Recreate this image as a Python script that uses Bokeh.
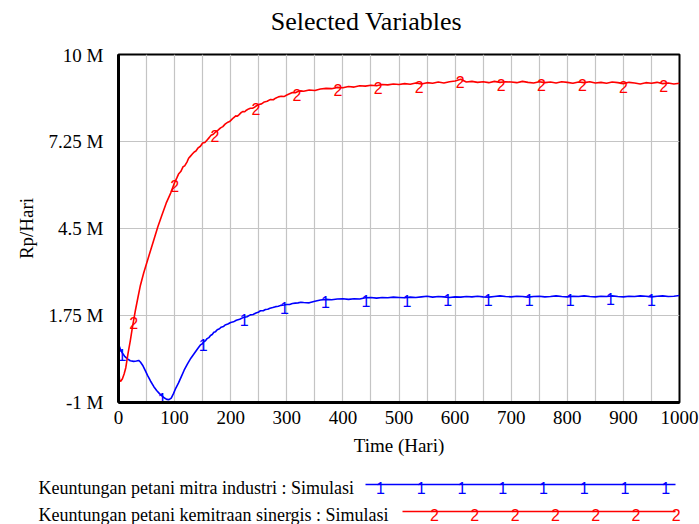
import numpy as np
from bokeh.plotting import figure
from bokeh.models import Range1d, FixedTicker
from bokeh.layouts import column, row
from bokeh.embed import file_html
from bokeh.resources import INLINE
from bokeh.core.properties import value

chart_title = "Selected Variables"
x_label = "Time (Hari)"
y_label = "Rp/Hari"
x_ticks = [0, 100, 200, 300, 400, 500, 600, 700, 800, 900, 1000]
y_ticks = [-1, 1.75, 4.5, 7.25, 10]
y_tick_labels = ["-1 M", "1.75 M", "4.5 M", "7.25 M", "10 M"]
series1_name = "Keuntungan petani mitra industri : Simulasi"
series2_name = "Keuntungan petani kemitraan sinergis : Simulasi"

# Series 1 (blue) - values in millions Rp/Hari
s1_t = [0, 1, 4, 7, 11, 16, 21, 27, 32, 36, 39, 43, 48, 52, 57, 63, 68, 73, 78, 82, 86, 90, 94, 98,
        102, 107, 112, 117, 123, 129, 135, 141, 146, 149, 152, 155, 158, 161, 164, 167, 170, 173,
        176, 180, 183, 187, 190, 195, 200, 205, 210, 216, 223, 229, 235, 240, 245, 249, 253, 258,
        262, 266, 270, 275, 280, 285, 289, 295, 300, 305, 310, 315, 320, 325,
        330, 340, 350, 360, 370, 380, 390, 400, 410, 420, 430, 440, 450, 460, 470, 480, 490, 500,
        510, 520, 530, 540, 550, 560, 570, 580, 590, 600, 610, 620, 630, 640, 650, 660, 670, 680,
        690, 700, 710, 720, 730, 740, 750, 760, 770, 780, 790, 800, 810, 820, 830, 840, 850, 860,
        870, 880, 890, 900, 910, 920, 930, 940, 950, 960, 970, 980, 990, 1000]
s1_v = [0.85, 0.8, 0.65, 0.56, 0.46, 0.38, 0.32, 0.3, 0.31, 0.33, 0.28, 0.18, 0.0, -0.15, -0.32,
        -0.5, -0.62, -0.72, -0.8, -0.86, -0.9, -0.91, -0.86, -0.72, -0.55, -0.38, -0.18, 0.02, 0.22,
        0.4, 0.55, 0.7, 0.82, 0.85, 0.92, 0.95, 1.02, 1.05, 1.12, 1.15, 1.22, 1.24, 1.3, 1.33,
        1.38, 1.4, 1.45, 1.48, 1.53, 1.55, 1.6, 1.63, 1.69, 1.71, 1.77, 1.78, 1.83, 1.85, 1.9, 1.9,
        1.94, 1.95, 1.98, 2.0, 2.03, 2.04, 2.07, 2.08, 2.1, 2.1, 2.13, 2.14, 2.15, 2.17,
        2.16, 2.15, 2.2, 2.24, 2.26, 2.25, 2.27, 2.28, 2.26, 2.28, 2.27, 2.31, 2.32, 2.3, 2.32, 2.31,
        2.33, 2.32, 2.31, 2.33, 2.32, 2.34, 2.36, 2.33, 2.35, 2.34, 2.32, 2.34, 2.33, 2.35, 2.34,
        2.36, 2.34, 2.33, 2.35, 2.37, 2.35, 2.34, 2.36, 2.35, 2.33, 2.35, 2.36, 2.34, 2.35, 2.37,
        2.35, 2.34, 2.36, 2.35, 2.37, 2.35, 2.34, 2.36, 2.35, 2.37, 2.35, 2.34, 2.36, 2.35, 2.37,
        2.36, 2.34, 2.36, 2.37, 2.35, 2.36, 2.38]

# Series 2 (red)
s2_t = [0, 1, 2, 4, 7, 10, 13, 17, 21, 25, 30, 35, 39, 45, 51, 57, 64, 70, 77, 85, 93,
        100, 104, 107, 111, 115, 118, 122, 125, 128, 132, 135, 138, 142, 146, 150, 154, 158, 162,
        165, 169, 173, 177, 182, 186, 190, 195, 198, 202, 205, 209, 212, 215, 219, 222, 225, 228,
        232, 235, 239, 242, 246, 250, 255, 260, 265, 271, 276, 280, 285, 290, 295, 300, 305, 310,
        315, 320, 325,
        330, 340, 350, 360, 370, 380, 390, 400, 410, 420, 430, 440, 450, 460, 470, 480, 490, 500,
        510, 520, 530, 540, 550, 560, 570, 580, 590, 600, 610, 620, 630, 640, 650, 660, 670, 680,
        690, 700, 710, 720, 730, 740, 750, 760, 770, 780, 790, 800, 810, 820, 830, 840, 850, 860,
        870, 880, 890, 900, 910, 920, 930, 940, 950, 960, 970, 980, 990, 1000]
s2_v = [1.5, -0.1, -0.3, -0.33, -0.25, -0.1, 0.1, 0.55, 0.95, 1.4, 1.9, 2.35, 2.7, 3.1, 3.45, 3.8,
        4.2, 4.55, 4.9, 5.3, 5.62,
        5.95, 6.1, 6.22, 6.3, 6.45, 6.48, 6.6, 6.72, 6.78, 6.86, 6.92, 6.95, 7.05, 7.1, 7.2, 7.22,
        7.3, 7.38, 7.45, 7.48, 7.55, 7.6, 7.68, 7.72, 7.8, 7.86, 7.88, 7.95, 8.0, 8.06, 8.05, 8.1,
        8.17, 8.2, 8.19, 8.24, 8.28, 8.3, 8.3, 8.33, 8.38, 8.42, 8.44, 8.5, 8.52, 8.58, 8.57, 8.62,
        8.66, 8.68, 8.67, 8.72, 8.76, 8.8, 8.79, 8.83, 8.85,
        8.84, 8.88, 8.86, 8.91, 8.93, 8.92, 8.96, 8.95, 8.99, 8.97, 9.01, 9.0, 9.03, 9.01, 9.05,
        9.04, 9.07, 9.05, 9.08, 9.06, 9.1, 9.07, 9.11, 9.09, 9.13, 9.1, 9.14, 9.16, 9.22, 9.13,
        9.15, 9.12, 9.14, 9.11, 9.15, 9.12, 9.14, 9.13, 9.11, 9.15, 9.12, 9.1, 9.14, 9.11, 9.13,
        9.1, 9.14, 9.12, 9.09, 9.13, 9.11, 9.14, 9.1, 9.12, 9.09, 9.13, 9.11, 9.08, 9.12, 9.1, 9.07,
        9.11, 9.09, 9.12, 9.08, 9.1, 9.07, 9.09]

# Marker times (Vensim series number markers)
s1_marker_t = [6, 78, 151, 224, 296, 369, 441, 514, 587, 659, 732, 805, 877, 950]
s2_marker_t = [27, 100, 172, 245, 318, 391, 463, 536, 609, 682, 754, 827, 900, 972]

BLUE = "#0000ff"
RED = "#ff0000"
SERIF = "Liberation Serif"
SANS = "Liberation Sans"
W = 699


def panel_figure(height):
    """A blank figure whose frame covers the whole canvas; ranges map to pixels."""
    f = figure(width=W, height=height, x_range=Range1d(0, W), y_range=Range1d(height, 0),
               output_backend="svg", toolbar_location=None, min_border=0,
               min_border_left=0, min_border_right=0, min_border_top=0, min_border_bottom=0,
               x_axis_type=None, y_axis_type=None)
    f.outline_line_color = None
    f.grid.grid_line_color = None
    return f


# Title panel
TH = 44
tfig = panel_figure(TH)
tfig.text([366], [21], text=[chart_title], text_font=value(SERIF), text_font_size="26px",
          text_color="black", text_align="center", text_baseline="middle")

# Main chart
p = figure(width=W, height=421, x_range=Range1d(0, 1000), y_range=Range1d(-1, 10),
           output_backend="svg", toolbar_location=None,
           min_border_left=118, min_border_right=20, min_border_top=10, min_border_bottom=63)
p.outline_line_color = "black"
p.outline_line_width = 2

p.xaxis.ticker = FixedTicker(ticks=x_ticks)
p.yaxis.ticker = FixedTicker(ticks=y_ticks)
p.yaxis.major_label_overrides = {t: l for t, l in zip(y_ticks, y_tick_labels)}
p.xgrid.ticker = FixedTicker(ticks=list(np.arange(0, 1001, 50)))
p.ygrid.ticker = FixedTicker(ticks=y_ticks)
for g in (p.xgrid, p.ygrid):
    g.grid_line_color = "#c4c4c4"
    g.grid_line_width = 1.2

p.xaxis.axis_label = x_label
p.yaxis.axis_label = y_label
for ax in (p.xaxis, p.yaxis):
    ax.axis_line_color = "black"
    ax.axis_line_width = 3
    ax.major_tick_in = 0
    ax.major_tick_out = 0
    ax.minor_tick_in = 0
    ax.minor_tick_out = 0
    ax.major_label_text_font = SERIF
    ax.major_label_text_font_size = "19px"
    ax.major_label_text_color = "black"
    ax.axis_label_text_font = SERIF
    ax.axis_label_text_font_size = "19px"
    ax.axis_label_text_font_style = "normal"
    ax.axis_label_text_color = "black"
p.xaxis.major_label_standoff = 8
p.xaxis.axis_label_standoff = 8
p.yaxis.major_label_standoff = 15
p.yaxis.axis_label_standoff = 9

p.line(s1_t, s1_v, line_color=BLUE, line_width=1.6)
p.line(s2_t, s2_v, line_color=RED, line_width=1.6)

m1_y = np.interp(s1_marker_t, s1_t, s1_v)
m2_y = np.interp(s2_marker_t, s2_t, s2_v)
p.text(s1_marker_t, m1_y, text=["1"] * len(s1_marker_t), text_font=value(SANS),
       text_font_size="16px", text_color=BLUE, text_align="center", text_baseline="middle",
       y_offset=3)
p.text(s2_marker_t, m2_y, text=["2"] * len(s2_marker_t), text_font=value(SANS),
       text_font_size="16px", text_color=RED, text_align="center", text_baseline="middle",
       y_offset=3)

# Legend panel
LH = 59
leg = panel_figure(LH)
row_y = [19, 46]
leg.text([38, 38], row_y, text=[series1_name, series2_name], text_font=value(SERIF),
         text_font_size="18px", text_color="black", text_align="left", text_baseline="middle",
         y_offset=3)
leg.line([365, 675], [row_y[0], row_y[0]], line_color=BLUE, line_width=1.6)
leg.line([402, 675], [row_y[1], row_y[1]], line_color=RED, line_width=1.6)
lx1 = list(380 + 40.75 * np.arange(8))
lx2 = list(434 + 40.3 * np.arange(7))
leg.text(lx1, [row_y[0]] * len(lx1), text=["1"] * len(lx1), text_font=value(SANS),
         text_font_size="16px", text_color=BLUE, text_align="center", text_baseline="middle",
         y_offset=3)
leg.text(lx2, [row_y[1]] * len(lx2), text=["2"] * len(lx2), text_font=value(SANS),
         text_font_size="16px", text_color=RED, text_align="center", text_baseline="middle",
         y_offset=3)

layout = column(row(tfig), p, row(leg), spacing=0)
open("out.html", "w").write(file_html(layout, INLINE))
